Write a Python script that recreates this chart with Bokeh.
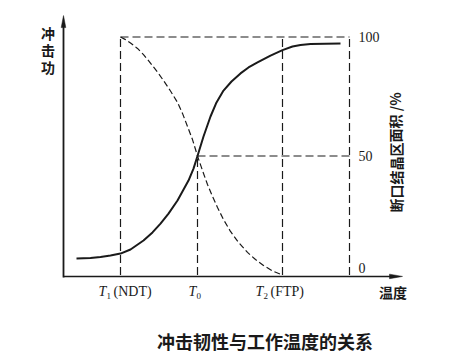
from bokeh.plotting import figure
from bokeh.models import Range1d
from bokeh.core.properties import value
from bokeh.embed import file_html
from bokeh.resources import INLINE

# ---------------- data (temperature in arbitrary units, percent on right scale) ----------
T1 = 57      # NDT
T0 = 134     # transition temperature (50 %)
T2 = 219     # FTP
T_RIGHT = 286  # right edge of the percentage panel
T_AXIS_END = 339

energy_temp = [13, 27, 37, 47, 57, 67, 80, 89, 97, 105, 114, 125, 130, 134, 140, 147, 153,
               160, 168, 177, 185, 194, 207, 219, 229, 237, 247, 277]
energy_val = [6.9, 7.1, 7.6, 8.2, 9.0, 10.7, 14.5, 17.9, 21.6, 25.8, 31.3, 39.7, 44.7, 50.0,
              58.2, 66.6, 72.5, 77.5, 81.3, 84.7, 87.2, 89.3, 92.2, 94.5, 96.0, 96.6, 97.1, 97.3]

fracture_temp = [57, 62, 67, 74, 80, 85, 90, 95, 100, 107, 114, 119, 124, 129, 134, 139, 144,
                 149, 154, 160, 167, 175, 184, 192, 200, 209, 219]
fracture_pct = [100, 98.9, 97.5, 95.2, 92.6, 90.1, 87.4, 84.7, 81.7, 77.3, 72.5, 67.9, 62.4,
                56.9, 50.0, 43.9, 38.0, 33.0, 28.4, 23.3, 18.3, 13.7, 9.5, 6.5, 4.0, 1.7, 0]

right_ticks = [100, 50]
right_tick_labels = ["100", "50"]
zero_label = "0"

y_axis_title = "冲击功"
right_axis_title = "断口结晶区面积 /%"
x_axis_title = "温度"
chart_title = "冲击韧性与工作温度的关系"

INK = "#1a1a1a"
SERIF = value("Liberation Serif")
CJK = value("Noto Sans CJK SC")

PX_PER_PCT = 2.38

p = figure(width=450, height=356, x_range=Range1d(-63, 387),
           y_range=Range1d(-81.5 / PX_PER_PCT, 274.5 / PX_PER_PCT),
           x_axis_location=None, y_axis_location=None,
           toolbar_location=None, output_backend="svg", min_border=0)
p.grid.visible = False
p.outline_line_color = None
p.background_fill_color = "white"

# ---------------- axes with arrows ----------------
y_axis_bottom = -1.0
y_axis_top = 109.0
x_axis_y = -0.6
p.segment(x0=[0], y0=[y_axis_bottom], x1=[0], y1=[y_axis_top - 4], line_color=INK, line_width=1.8)
p.segment(x0=[0], y0=[x_axis_y], x1=[T_AXIS_END - 6], y1=[x_axis_y], line_color=INK, line_width=1.5)
# arrow heads
hl = 12 / PX_PER_PCT
p.patch(x=[-2.3, 2.3, 0], y=[y_axis_top - hl, y_axis_top - hl, y_axis_top],
        fill_color=INK, line_color=INK, line_width=0.5)
hw = 2.3 / PX_PER_PCT
p.patch(x=[T_AXIS_END - 13, T_AXIS_END - 13, T_AXIS_END], y=[x_axis_y - hw, x_axis_y + hw, x_axis_y],
        fill_color=INK, line_color=INK, line_width=0.5)

# ---------------- dashed reference frame ----------------
frame_x0 = [T1, T1, T2, T_RIGHT, T0, T0]
frame_y0 = [100, 0, 0, 0, 0, 50]
frame_x1 = [T_RIGHT, T1, T2, T_RIGHT, T0, T_RIGHT]
frame_y1 = [100, 100, 100, 100, 50, 50]
p.segment(x0=frame_x0, y0=frame_y0, x1=frame_x1, y1=frame_y1,
          line_color=INK, line_width=1.2, line_dash="8 4")

# ---------------- curves ----------------
p.line(fracture_temp, fracture_pct, line_color=INK, line_width=1.2, line_dash="6 3",
       line_join="round")
p.line(energy_temp, energy_val, line_color=INK, line_width=2.0, line_join="round")

# ---------------- right scale labels ----------------
p.text(x=[T_RIGHT] * len(right_ticks), y=right_ticks, text=right_tick_labels,
       x_offset=9, text_align="left", text_baseline="middle",
       text_font=SERIF, text_font_size="14px", text_color=INK)
p.text(x=[T_RIGHT], y=[0], text=[zero_label], x_offset=9, y_offset=-2,
       text_align="left", text_baseline="bottom",
       text_font=SERIF, text_font_size="14px", text_color=INK)

# ---------------- temperature labels with subscripts ----------------
label_y = -16 / PX_PER_PCT
sub_y = -21 / PX_PER_PCT


def t_label(xpos, sub, suffix, dx):
    p.text(x=[xpos], y=[label_y], text=["T"], x_offset=dx, text_align="left",
           text_baseline="middle", text_font=SERIF, text_font_style="italic",
           text_font_size="14px", text_color=INK)
    p.text(x=[xpos], y=[sub_y], text=[sub], x_offset=dx + 8, text_align="left",
           text_baseline="middle", text_font=SERIF, text_font_size="9px", text_color=INK)
    if suffix:
        p.text(x=[xpos], y=[label_y], text=[suffix], x_offset=dx + 15, text_align="left",
               text_baseline="middle", text_font=SERIF, text_font_size="14px", text_color=INK)


t_label(T1, "1", "(NDT)", -22)
t_label(T0, "0", "", -9)
t_label(T2, "2", "(FTP)", -27)

# ---------------- titles ----------------
p.text(x=[T_AXIS_END - 9.5], y=[-17 / PX_PER_PCT], text=[x_axis_title], text_align="center",
       text_baseline="middle", text_font=CJK, text_font_style="bold",
       text_font_size="14px", text_color=INK)

chars = list(y_axis_title)
p.text(x=[-15.5] * len(chars), y=[(274.5 - (32 + 17 * i)) / PX_PER_PCT for i in range(len(chars))],
       text=chars, text_align="center", text_baseline="middle", text_font=CJK,
       text_font_style="bold", text_font_size="14px", text_color=INK)

p.text(x=[332], y=[51.5], text=[right_axis_title], angle=1.5708, text_align="center",
       text_baseline="middle", text_font=CJK, text_font_style="bold",
       text_font_size="14px", text_color=INK)

p.text(x=[201.5], y=[(274.5 - 340) / PX_PER_PCT], text=[chart_title], text_align="center",
       text_baseline="middle", text_font=CJK, text_font_style="bold",
       text_font_size="18px", text_color=INK)

open("out.html", "w").write(file_html(p, INLINE))
